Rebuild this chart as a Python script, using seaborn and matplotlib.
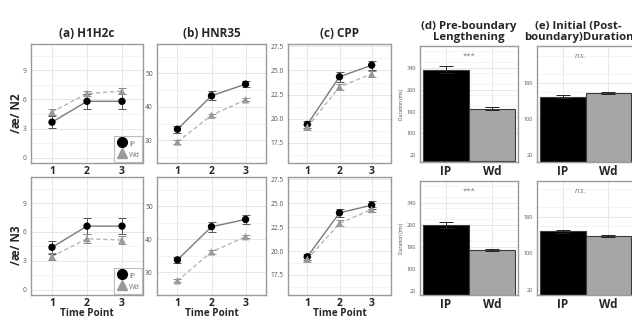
import numpy as np
import pandas as pd
import matplotlib
matplotlib.use("Agg")
import matplotlib.pyplot as plt
from matplotlib.lines import Line2D
from matplotlib.ticker import MultipleLocator
import seaborn as sns

# data
time_points = [1, 2, 3]
groups = ["IP", "Wd"]

h1h2c_n2_ip = [3.65, 5.8, 5.8]
h1h2c_n2_ip_err = [0.6, 0.8, 0.8]
h1h2c_n2_wd = [4.7, 6.6, 6.85]
h1h2c_n2_wd_err = [0.3, 0.3, 0.3]
h1h2c_n3_ip = [4.4, 6.6, 6.6]
h1h2c_n3_ip_err = [0.7, 0.8, 0.8]
h1h2c_n3_wd = [3.45, 5.3, 5.15]
h1h2c_n3_wd_err = [0.35, 0.45, 0.45]

hnr35_n2_ip = [33.3, 43.3, 46.8]
hnr35_n2_ip_err = [1.0, 1.3, 1.0]
hnr35_n2_wd = [29.5, 37.5, 42.1]
hnr35_n2_wd_err = [0.5, 0.5, 0.5]
hnr35_n3_ip = [33.8, 43.8, 46.0]
hnr35_n3_ip_err = [1.0, 1.5, 1.3]
hnr35_n3_wd = [27.5, 36.2, 40.8]
hnr35_n3_wd_err = [0.5, 0.5, 0.5]

cpp_n2_ip = [19.4, 24.35, 25.55]
cpp_n2_ip_err = [0.4, 0.5, 0.45]
cpp_n2_wd = [19.15, 23.3, 24.65]
cpp_n2_wd_err = [0.3, 0.3, 0.3]
cpp_n3_ip = [19.4, 24.0, 24.8]
cpp_n3_ip_err = [0.3, 0.45, 0.45]
cpp_n3_wd = [19.15, 22.9, 24.35]
cpp_n3_wd_err = [0.25, 0.3, 0.3]

preb_n2 = [333, 191]
preb_n2_err = [12, 5]
preb_n3 = [259, 169]
preb_n3_err = [10, 4]
init_n2 = [150, 158]
init_n2_err = [3, 3]
init_n3 = [148, 138]
init_n3_err = [3.5, 2]

sns.set_theme(style="white")
plt.rcParams['font.family'] = ['Open Sans', 'DejaVu Sans']

W, H = 632, 320
fig = plt.figure(figsize=(W / 100, H / 100), dpi=100)


def pos(x0, y0, x1, y1):
    return [x0 / W, 1 - y1 / H, (x1 - x0) / W, (y1 - y0) / H]


def style_axes(ax, minor_step, xgrid=True):
    for s in ax.spines.values():
        s.set_visible(True)
        s.set_color('#9a9a9a')
        s.set_linewidth(1.0)
    ax.yaxis.set_minor_locator(MultipleLocator(minor_step))
    ax.grid(which='major', axis='y', color='#e3e3e3', lw=0.6)
    ax.grid(which='minor', axis='y', color='#f0f0f0', lw=0.5)
    if xgrid:
        ax.grid(which='major', axis='x', color='#e3e3e3', lw=0.6)
    ax.set_axisbelow(True)
    ax.tick_params(which='major', length=2, width=0.6, color='#888888')
    ax.tick_params(axis='y', pad=1.0)
    ax.tick_params(axis='x', pad=0.3)
    ax.tick_params(which='minor', length=0)
    ax.tick_params(axis='y', labelsize=4.8, labelcolor='#555555')
    for lab in ax.get_xticklabels():
        lab.set_fontweight('bold')
    ax.set_ylabel('')


def line_panel(ax, ip, ip_err, wd, wd_err, ylim, yticks, yfmt, minor_step):
    df = pd.DataFrame({'time': time_points * 2, 'value': ip + wd,
                       'group': ['IP'] * 3 + ['Wd'] * 3})
    sns.lineplot(data=df, x='time', y='value', hue='group', style='group',
                 palette={'IP': '#7a7a7a', 'Wd': '#b5b5b5'},
                 dashes={'IP': '', 'Wd': (3, 2)}, linewidth=1.0,
                 legend=False, ax=ax)
    ax.errorbar(time_points, ip, yerr=ip_err, fmt='none', ecolor='#555555',
                elinewidth=0.7, capsize=3, capthick=0.7, zorder=2)
    ax.errorbar(time_points, wd, yerr=wd_err, fmt='none', ecolor='#8c8c8c',
                elinewidth=0.7, capsize=3, capthick=0.7, zorder=2)
    sns.scatterplot(data=df, x='time', y='value', hue='group', style='group',
                    markers={'IP': 'o', 'Wd': '^'},
                    palette={'IP': 'black', 'Wd': '#999999'},
                    s=28, linewidth=0, legend=False, ax=ax, zorder=3)
    ax.set_xlim(0.4, 3.6)
    ax.set_ylim(*ylim)
    ax.set_xticks(time_points)
    ax.set_xticklabels([str(t) for t in time_points], fontsize=7.5,
                       fontweight='bold')
    ax.set_yticks(yticks)
    ax.set_yticklabels([yfmt.format(v) for v in yticks])
    ax.set_xlabel('')
    style_axes(ax, minor_step)


def bar_panel(ax, vals, errs, ylim, yticks, sig, italic, sig_x):
    df = pd.DataFrame({'group': groups, 'value': vals})
    sns.barplot(data=df, x='group', y='value', hue='group',
                palette={'IP': 'black', 'Wd': '#a6a6a6'}, width=1.0,
                edgecolor='#3c3c3c', linewidth=0.8, errorbar=None,
                legend=False, ax=ax, zorder=2)
    ax.errorbar([0, 1], vals, yerr=errs, fmt='none', ecolor='#222222',
                elinewidth=0.7, capsize=5, capthick=0.7, zorder=3)
    ax.set_xlim(-0.56, 1.56)
    ax.set_ylim(*ylim)
    ax.set_yticks(yticks)
    ax.set_yticklabels([str(v) for v in yticks])
    ax.set_xticks([0, 1])
    ax.set_xticklabels(groups, fontsize=8.5, fontweight='bold')
    ax.set_xlabel('')
    style_axes(ax, 40)
    ax.tick_params(axis='y', labelsize=4.0)
    ax.text(sig_x, 0.91, sig, transform=ax.transAxes, ha='center', va='center',
            fontsize=5.5, color='#777777', style='italic' if italic else 'normal')


rows = [(44, 163), (177, 295)]
bar_rows = [(46, 162), (181, 295)]

line_data = [
    [(h1h2c_n2_ip, h1h2c_n2_ip_err, h1h2c_n2_wd, h1h2c_n2_wd_err),
     (h1h2c_n3_ip, h1h2c_n3_ip_err, h1h2c_n3_wd, h1h2c_n3_wd_err)],
    [(hnr35_n2_ip, hnr35_n2_ip_err, hnr35_n2_wd, hnr35_n2_wd_err),
     (hnr35_n3_ip, hnr35_n3_ip_err, hnr35_n3_wd, hnr35_n3_wd_err)],
    [(cpp_n2_ip, cpp_n2_ip_err, cpp_n2_wd, cpp_n2_wd_err),
     (cpp_n3_ip, cpp_n3_ip_err, cpp_n3_wd, cpp_n3_wd_err)],
]
line_x = [(31, 143), (157, 266), (288, 391)]
line_titles = ['(a) H1H2c', '(b) HNR35', '(c) CPP']
line_ylims = [(-0.55, 11.7), (23.2, 58.8), (15.4, 27.75)]
line_yticks = [[0, 3, 6, 9], [30, 40, 50], [17.5, 20.0, 22.5, 25.0, 27.5]]
line_fmt = ['{:g}', '{:g}', '{:.1f}']
line_minor = [1.5, 5, 1.25]

for c in range(3):
    for r in range(2):
        ax = fig.add_axes(pos(line_x[c][0], rows[r][0], line_x[c][1], rows[r][1]))
        ip, ipe, wd, wde = line_data[c][r]
        line_panel(ax, ip, ipe, wd, wde, line_ylims[c], line_yticks[c],
                   line_fmt[c], line_minor[c])
        if r == 0:
            ax.set_title(line_titles[c], fontsize=8.5, fontweight='bold', pad=5)
        else:
            ax.set_xlabel('Time Point', fontsize=7.2, fontweight='bold', labelpad=-1)
        if c == 0:
            handles = [Line2D([], [], marker='o', ls='', color='black', markersize=7),
                       Line2D([], [], marker='^', ls='', color='#999999', markersize=7.5)]
            leg = ax.legend(handles, groups, loc='lower right', fontsize=5,
                            frameon=True, fancybox=False, borderaxespad=0.15,
                            handletextpad=0.25, borderpad=0.3, labelspacing=0.15,
                            handlelength=1.6, handleheight=1.9, markerscale=1.0)
            frame = leg.get_frame()
            frame.set_facecolor('white')
            frame.set_alpha(1.0)
            frame.set_edgecolor('#bbbbbb')
            frame.set_linewidth(0.8)
            for t in leg.get_texts():
                t.set_color('#707080')

bar_info = [
    [(preb_n2, preb_n2_err, (-5, 420)), (preb_n3, preb_n3_err, (5, 420))],
    [(init_n2, init_n2_err, (4, 263)), (init_n3, init_n3_err, (8, 258))],
]
bar_x = [(420, 518), (537, 634)]
bar_titles = ['(d) Pre-boundary\nLengthening', '(e) Initial (Post-\nboundary)Duration']
bar_title_x = [0.5, 0.43]
bar_yticks = [[20, 100, 180, 260, 340], [20, 100, 180]]
bar_sig = [('***', False, 0.5), ('n.s.', True, 0.45)]

for c in range(2):
    for r in range(2):
        ax = fig.add_axes(pos(bar_x[c][0], bar_rows[r][0], bar_x[c][1], bar_rows[r][1]))
        vals, errs, ylim = bar_info[c][r]
        bar_panel(ax, vals, errs, ylim, bar_yticks[c], *bar_sig[c])
        if r == 0:
            ax.set_title(bar_titles[c], fontsize=8.2, fontweight='bold', pad=4,
                         linespacing=1.1, x=bar_title_x[c])
        if c == 0:
            ax.set_ylabel('Duration (ms)', fontsize=3.5, color='#444444', labelpad=2)

fig.text(16 / W, 1 - 113 / H, '/æ/ N2', rotation=90, fontsize=8.5,
         fontweight='bold', ha='center', va='center')
fig.text(16 / W, 1 - 245 / H, '/æ/ N3', rotation=90, fontsize=8.5,
         fontweight='bold', ha='center', va='center')

fig.savefig('out.png', dpi=100)
